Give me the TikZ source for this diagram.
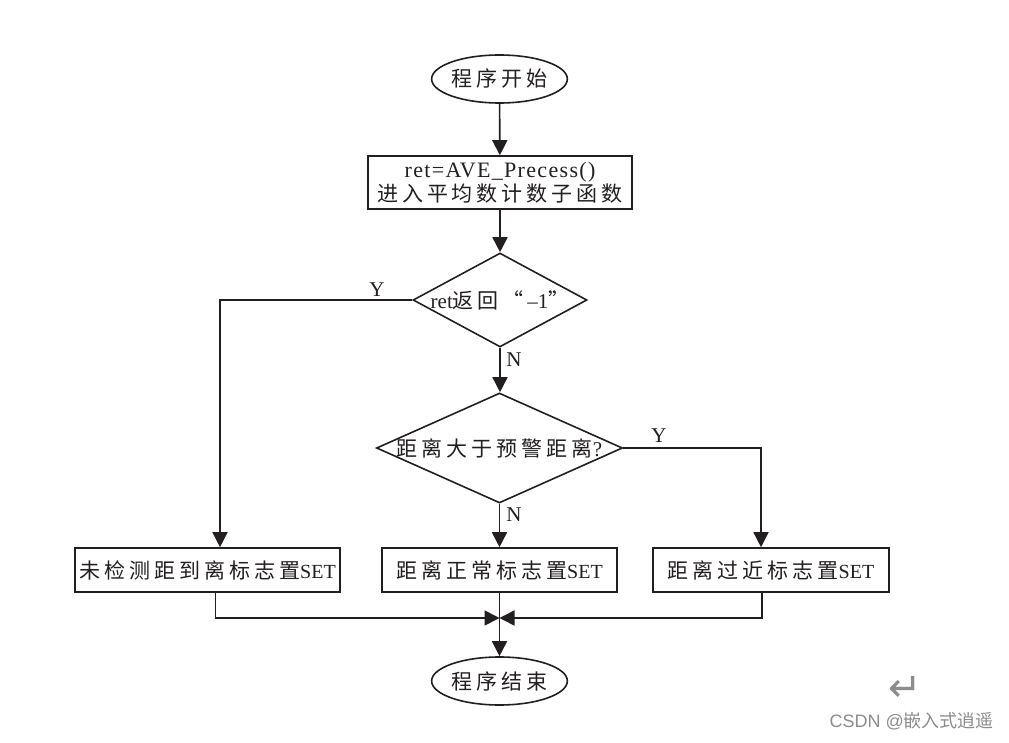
\documentclass[tikz,border=0pt]{standalone}
\usepackage{fontspec}
\setmainfont{Liberation Serif}
\newfontfamily\cjk[LetterSpace=19]{Noto Sans CJK SC}
\newfontfamily\cjkw{Noto Sans CJK SC}
\newfontfamily\dejavu{DejaVu Sans}
\newfontfamily\wmsans{Liberation Sans}
\newcommand\zh{\cjk\fontsize{21}{24}\selectfont}
\usetikzlibrary{shapes.geometric,arrows.meta}
\definecolor{ink}{HTML}{231F20}
\definecolor{wm}{HTML}{8C8C8C}
\begin{document}
\begin{tikzpicture}[x=1pt,y=-1pt,
  every node/.style={font=\fontsize{20}{24}\selectfont, text=ink},
  line/.style={draw=ink, line width=1.6pt},
  arr/.style={line, -{Triangle[length=15pt,width=15pt]}},
  term/.style={ellipse, draw=ink, line width=1.6pt, inner sep=0pt, minimum width=134pt, minimum height=48pt},
  procbox/.style={rectangle, draw=ink, line width=1.6pt, inner sep=0pt, minimum height=44pt},
  dec/.style={diamond, draw=ink, line width=1.6pt, inner sep=0pt},
  lab/.style={inner sep=0pt, font=\fontsize{21}{24}\selectfont}
]
\fill[white] (0,0) rectangle (1009,743);
\useasboundingbox (0,0) rectangle (1009,743);

\node[term] (start) at (499.5,79) {\zh 程序开始};
\node[procbox, minimum width=264pt, minimum height=53pt, align=center] (init) at (500,182.5)
  {{\fontsize{22}{24}\selectfont\addfontfeature{LetterSpace=6}ret=AVE\_Precess()}\\{\zh 进入平均数计数子函数}};
\node[dec, minimum width=174pt, minimum height=94pt] (d1) at (500,300)
  {\makebox[0pt]{{\fontsize{21}{24}\selectfont ret}{\zh 返回“}{\fontsize{21}{24}\selectfont\,–1}{\zh ”}}};
\node[dec, minimum width=246pt, minimum height=110pt] (d2) at (499.5,448)
  {\makebox[0pt]{{\zh 距离大于预警距离}{\fontsize{21}{24}\selectfont ?}}};
\node[procbox, minimum width=265pt] (b1) at (207.5,570) {{\zh 未检测距到离标志置}SET};
\node[procbox, minimum width=235pt] (b2) at (499.5,570) {{\zh 距离正常标志置}SET};
\node[procbox, minimum width=236pt] (b3) at (771,570) {{\zh 距离过近标志置}SET};
\node[term] (end) at (499.5,681) {\zh 程序结束};

\coordinate (c1) at (220,300);
\coordinate (c2) at (761,448);
\coordinate (j) at (499.5,618);

\draw[arr] (start) -- (init);
\draw[arr] (init) -- (d1);
\draw[arr] (d1.west) -- (c1) -- (c1 |- b1.north);
\draw[arr] (d1.south) -- (d1.south |- d2.north);
\draw[arr] (d2.south) -- (b2.north);
\draw[arr] (d2.east) -- (c2) -- (c2 |- b3.north);
\draw[arr] ([xshift=8pt]b1.south) |- (j);
\draw[arr] ([xshift=-9pt]b3.south) |- (j);
\draw[arr] (b2.south) -- (end.north);

\node[lab] (y1) at (377,290) {Y};
\node[lab] (n1) at (514,360) {N};
\node[lab] (y2) at (659,436) {Y};
\node[lab] (n2) at (514,515) {N};

\node[text=wm, font=\dejavu\fontsize{40}{40}\selectfont, inner sep=0pt] (retsym) at (905,689) {↵};
\node[text=wm, font=\fontsize{18}{20}\selectfont, anchor=east, inner sep=0pt] (wmk) at (994,721)
  {{\wmsans CSDN @}{\cjkw 嵌入式逍遥}};
\end{tikzpicture}
\end{document}
